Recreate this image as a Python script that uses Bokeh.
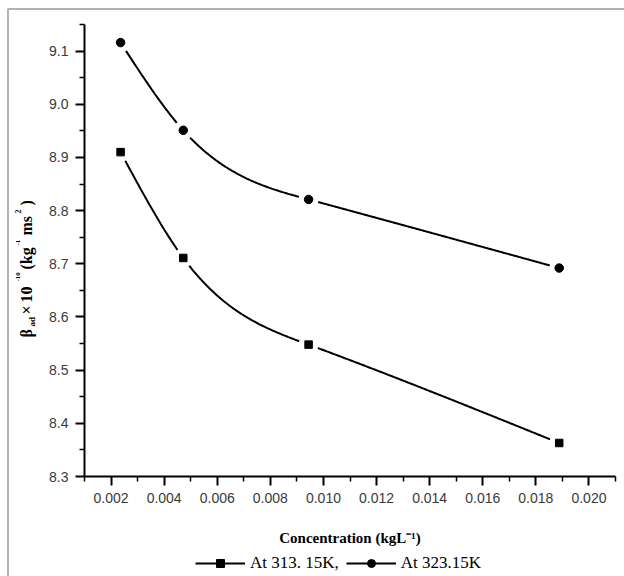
import math
import numpy as np
from bokeh.plotting import figure
from bokeh.models import (Range1d, FixedTicker, Legend, LegendItem, Label,
                          BoxAnnotation, PrintfTickFormatter)
from bokeh.embed import file_html
from bokeh.resources import INLINE

# ---------------- data ----------------
conc = [0.00236, 0.00472, 0.00944, 0.01888]          # kg L^-1
beta_313 = [8.910, 8.711, 8.548, 8.363]                # At 313.15 K (squares)
beta_323 = [9.116, 8.951, 8.821, 8.692]                # At 323.15 K (circles)

x_ticks = [0.002, 0.004, 0.006, 0.008, 0.010, 0.012, 0.014, 0.016, 0.018, 0.020]
x_tick_labels = ["0.002", "0.004", "0.006", "0.008", "0.010", "0.012",
                 "0.014", "0.016", "0.018", "0.020"]
x_minor = [0.001, 0.003, 0.005, 0.007, 0.009, 0.011, 0.013, 0.015, 0.017,
           0.019, 0.021]
y_ticks = [8.3, 8.4, 8.5, 8.6, 8.7, 8.8, 8.9, 9.0, 9.1]
y_tick_labels = ["8.3", "8.4", "8.5", "8.6", "8.7", "8.8", "8.9", "9.0", "9.1"]
y_minor = [8.35, 8.45, 8.55, 8.65, 8.75, 8.85, 8.95, 9.05, 9.15]
x_axis_span = (0.001, 0.021)
y_axis_span = (8.3, 9.15)

legend_labels = ["At 313. 15K,", "At 323.15K"]
x_title = "Concentration (kgL⁻¹)"


def natural_spline(xs, ys, n=300):
    """Smooth connecting curve (natural cubic spline) through the data points."""
    x = np.asarray(xs, float)
    y = np.asarray(ys, float)
    k = len(x)
    h = np.diff(x)
    A = np.zeros((k, k))
    b = np.zeros(k)
    A[0, 0] = 1.0
    A[-1, -1] = 1.0
    for i in range(1, k - 1):
        A[i, i - 1] = h[i - 1]
        A[i, i] = 2 * (h[i - 1] + h[i])
        A[i, i + 1] = h[i]
        b[i] = 6 * ((y[i + 1] - y[i]) / h[i] - (y[i] - y[i - 1]) / h[i - 1])
    M = np.linalg.solve(A, b)
    xx = np.linspace(x[0], x[-1], n)
    yy = np.empty_like(xx)
    for j, t in enumerate(xx):
        i = min(np.searchsorted(x, t, side="right") - 1, k - 2)
        hi = h[i]
        a = x[i + 1] - t
        c = t - x[i]
        yy[j] = (M[i] * a ** 3 / (6 * hi) + M[i + 1] * c ** 3 / (6 * hi)
                 + (y[i] / hi - M[i] * hi / 6) * a
                 + (y[i + 1] / hi - M[i + 1] * hi / 6) * c)
    return xx, yy


# ---------------- geometry (pixels) ----------------
W, H = 624, 576
AX_L, AX_R, AX_T, AX_B = 84, 615, 24, 476      # axis box in canvas pixels
xs_per_px = (x_axis_span[1] - x_axis_span[0]) / (AX_R - AX_L)
ys_per_px = (y_axis_span[1] - y_axis_span[0]) / (AX_B - AX_T)
x_range = Range1d(x_axis_span[0] - AX_L * xs_per_px,
                  x_axis_span[1] + (W - AX_R) * xs_per_px)
y_range = Range1d(y_axis_span[0] - (H - AX_B) * ys_per_px,
                  y_axis_span[1] + AX_T * ys_per_px)

p = figure(width=W, height=H, output_backend="svg", toolbar_location=None,
           x_range=x_range, y_range=y_range,
           min_border=0, min_border_left=0, min_border_right=0,
           min_border_top=0, min_border_bottom=0)
p.outline_line_color = None
p.xgrid.visible = False
p.ygrid.visible = False
p.background_fill_color = "white"
p.border_fill_color = "white"

xa = p.xaxis[0]
ya = p.yaxis[0]
xa.fixed_location = y_axis_span[0]
ya.fixed_location = x_axis_span[0]
xa.bounds = x_axis_span
ya.bounds = y_axis_span

for ax in (xa, ya):
    ax.axis_line_width = 2
    ax.axis_line_color = "black"
    ax.major_tick_line_width = 2
    ax.minor_tick_line_width = 1.5
    ax.major_tick_line_color = "black"
    ax.minor_tick_line_color = "black"
    ax.major_tick_in = 0
    ax.major_tick_out = 9
    ax.minor_tick_in = 0
    ax.minor_tick_out = 5
    ax.major_label_text_font = "Liberation Sans"
    ax.major_label_text_font_size = "14px"
    ax.major_label_text_color = "#3a3a3a"

xa.ticker = FixedTicker(ticks=x_ticks, minor_ticks=x_minor)
ya.ticker = FixedTicker(ticks=y_ticks, minor_ticks=y_minor)
xa.formatter = PrintfTickFormatter(format="%.3f")
ya.formatter = PrintfTickFormatter(format="%.1f")
xa.major_label_overrides = {t: s for t, s in zip(x_ticks, x_tick_labels)}
ya.major_label_overrides = {t: s for t, s in zip(y_ticks, y_tick_labels)}
xa.major_label_standoff = 7
ya.major_label_standoff = 7

# curves
sx1, sy1 = natural_spline(conc, beta_313)
sx2, sy2 = natural_spline(conc, beta_323)
l1 = p.line(sx1, sy1, line_color="black", line_width=2)
l2 = p.line(sx2, sy2, line_color="black", line_width=2)

# white gaps around the symbols (Origin style)
p.scatter(conc, beta_313, marker="circle", size=20, fill_color="white",
          line_color=None)
p.scatter(conc, beta_323, marker="circle", size=20, fill_color="white",
          line_color=None)

m1 = p.scatter(conc, beta_313, marker="square", size=7.5, fill_color="black",
               line_color="black")
m2 = p.scatter(conc, beta_323, marker="circle", size=8.5, fill_color="black",
               line_color="black")

legend = Legend(items=[LegendItem(label=legend_labels[0], renderers=[l1, m1]),
                       LegendItem(label=legend_labels[1], renderers=[l2, m2])],
                orientation="horizontal", location=(195, 3),
                glyph_width=50, glyph_height=20, label_standoff=5, spacing=7,
                padding=0, margin=0, border_line_color=None,
                background_fill_alpha=0, label_text_font="Liberation Serif",
                label_text_font_size="17px", label_text_color="black")
p.add_layout(legend, "center")

# x-axis title
p.add_layout(Label(x=(AX_L + AX_R) / 2, y=H - 537, x_units="screen",
                   y_units="screen", text=x_title, text_align="center",
                   text_baseline="middle", text_font="Liberation Serif",
                   text_font_style="bold", text_font_size="15px",
                   text_color="black"))

# y-axis title, assembled from pieces (rotated, reading upwards)
ypieces = [
    ("β", 239, 26, "16px"),
    ("ad", 250, 31, "9px"),
    ("×", 262, 26, "16px"),
    ("10", 274, 26, "16px"),
    ("-10", 295, 17, "7px"),
    ("(kg", 307, 26, "16px"),
    ("-1", 331, 17, "7px"),
    ("ms", 341, 26, "16px"),
    ("2", 363, 17, "8px"),
    (")", 371, 26, "16px"),
]
for txt, yy, xx, fs in ypieces:
    p.add_layout(Label(x=xx, y=yy, x_units="screen", y_units="screen",
                       text=txt, angle=math.pi / 2, text_align="left",
                       text_baseline="middle", text_font="Liberation Serif",
                       text_font_style="bold", text_font_size=fs,
                       text_color="black"))

# outer frame of the picture (left & top edges visible)
p.add_layout(BoxAnnotation(left=7.5, right=W + 50, top=H - 8.5, bottom=-50,
                           left_units="screen", right_units="screen",
                           top_units="screen", bottom_units="screen",
                           fill_alpha=0, line_color="black", line_width=2))

open("out.html", "w").write(file_html(p, INLINE))
